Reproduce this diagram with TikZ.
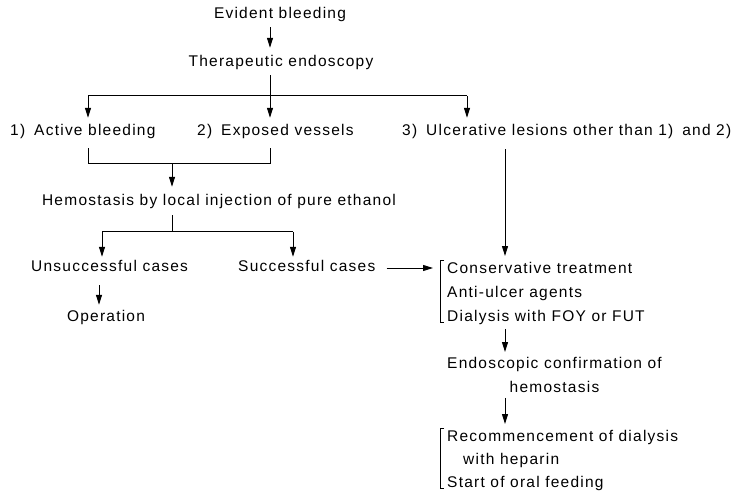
\documentclass[tikz,border=0pt]{standalone}
\usepackage{fontspec}
\setmainfont[LetterSpace=8]{Liberation Sans}
\usetikzlibrary{arrows.meta}
\begin{document}
\begin{tikzpicture}[x=1pt,y=-1pt,
  lbl/.style={font=\fontsize{15.5}{24}\selectfont, inner sep=0pt, text height=11pt, text depth=3pt},
  grp/.style={font=\fontsize{15.5}{24}\selectfont, inner sep=0pt, align=left, anchor=north west},
  ln/.style={line width=1pt},
  arr/.style={line width=1pt, -{Triangle[length=10pt,width=6pt]}}]
\useasboundingbox (0,0) rectangle (745,492);
% text nodes
\node[lbl] (evident) at (280,15) {Evident bleeding};
\node[lbl] (thera) at (281,63) {Therapeutic endoscopy};
\node[lbl,anchor=west] (act) at (10,132) {1)\hspace{9pt}Active bleeding};
\node[lbl,anchor=west] (exp) at (197,132) {2)\hspace{9pt}Exposed vessels};
\node[lbl,anchor=west] (ulc) at (402,132) {3)\hspace{9pt}Ulcerative lesions other than 1)\hspace{9pt}and 2)};
\node[lbl] (hemo) at (219,202) {Hemostasis by local injection of pure ethanol};
\node[lbl,anchor=west] (unsucc) at (31,268) {Unsuccessful cases};
\node[lbl,anchor=west] (succ) at (238,268) {Successful cases};
\node[lbl] (oper) at (106,317) {Operation};
\node[grp] (cons) at (447,262) {Conservative treatment\\Anti-ulcer agents\\Dialysis with FOY or FUT};
\node[grp,align=center] (endo) at (447,357.5) {Endoscopic confirmation of\\hemostasis};
\node[grp,font=\fontsize{15.5}{23}\selectfont] (recom) at (447,430.5) {Recommencement of dialysis\\\hspace*{16pt}with heparin\\Start of oral feeding};
% x positions of vertical connectors
\coordinate (xa) at (270,0);
\coordinate (x1) at (88,0);
\coordinate (x3) at (467,0);
\coordinate (xj) at (172,0);
\coordinate (xu) at (102,0);
\coordinate (xs) at (293,0);
\coordinate (xo) at (99,0);
\coordinate (xr) at (505,0);
% y positions of bars
\coordinate (ybar) at (0,96);
\coordinate (yjoin) at (0,164);
\coordinate (ysplit) at (0,232);
% connectors
\draw[arr, shorten <=5pt, shorten >=8pt] (evident.south -| xa) -- (thera.north -| xa);
\draw[arr, shorten <=5pt, shorten >=7pt] (thera.south -| xa) -- (exp.north -| xa);
\draw[ln] (ybar -| x1) -- (ybar -| x3);
\draw[arr, shorten >=7pt] (ybar -| x1) -- (act.north -| x1);
\draw[arr, shorten >=7pt] (ybar -| x3) -- (ulc.north -| x3);
\draw[ln, shorten <=9pt] (act.south -| x1) -- (yjoin -| x1) -- (yjoin -| xa);
\draw[ln, shorten <=9pt] (exp.south -| xa) -- (yjoin -| xa);
\draw[arr, shorten >=8pt] (yjoin -| xj) -- (hemo.north -| xj);
\draw[ln, shorten <=6pt] (hemo.south -| xj) -- (ysplit -| xj);
\draw[ln] (ysplit -| xu) -- (ysplit -| xs);
\draw[arr, shorten >=4pt] (ysplit -| xu) -- (unsucc.north -| xu);
\draw[arr, shorten >=4pt] (ysplit -| xs) -- (succ.north -| xs);
\draw[arr, shorten <=10pt, shorten >=5pt] (unsucc.south -| xo) -- (oper.north -| xo);
\draw[arr, shorten <=11pt, shorten >=14pt] (succ.east) -- (succ.east -| cons.west);
\draw[arr, shorten <=10pt, shorten >=6pt] (ulc.south -| xr) -- (cons.north -| xr);
\draw[arr, shorten <=4pt, shorten >=5.5pt] (cons.south -| xr) -- (endo.north -| xr);
\draw[arr, shorten <=4.5pt, shorten >=6.5pt] (endo.south -| xr) -- (recom.north -| xr);
% brackets
\draw[ln] ([xshift=-3pt,yshift=2pt]cons.north west) -- ([xshift=-7pt,yshift=2pt]cons.north west) -- ([xshift=-7pt,yshift=2pt]cons.south west) -- ([xshift=-3pt,yshift=2pt]cons.south west);
\draw[ln] ([xshift=-3pt,yshift=2.5pt]recom.north west) -- ([xshift=-7pt,yshift=2.5pt]recom.north west) -- ([xshift=-7pt,yshift=2.5pt]recom.south west) -- ([xshift=-3pt,yshift=2.5pt]recom.south west);
\end{tikzpicture}
\end{document}
